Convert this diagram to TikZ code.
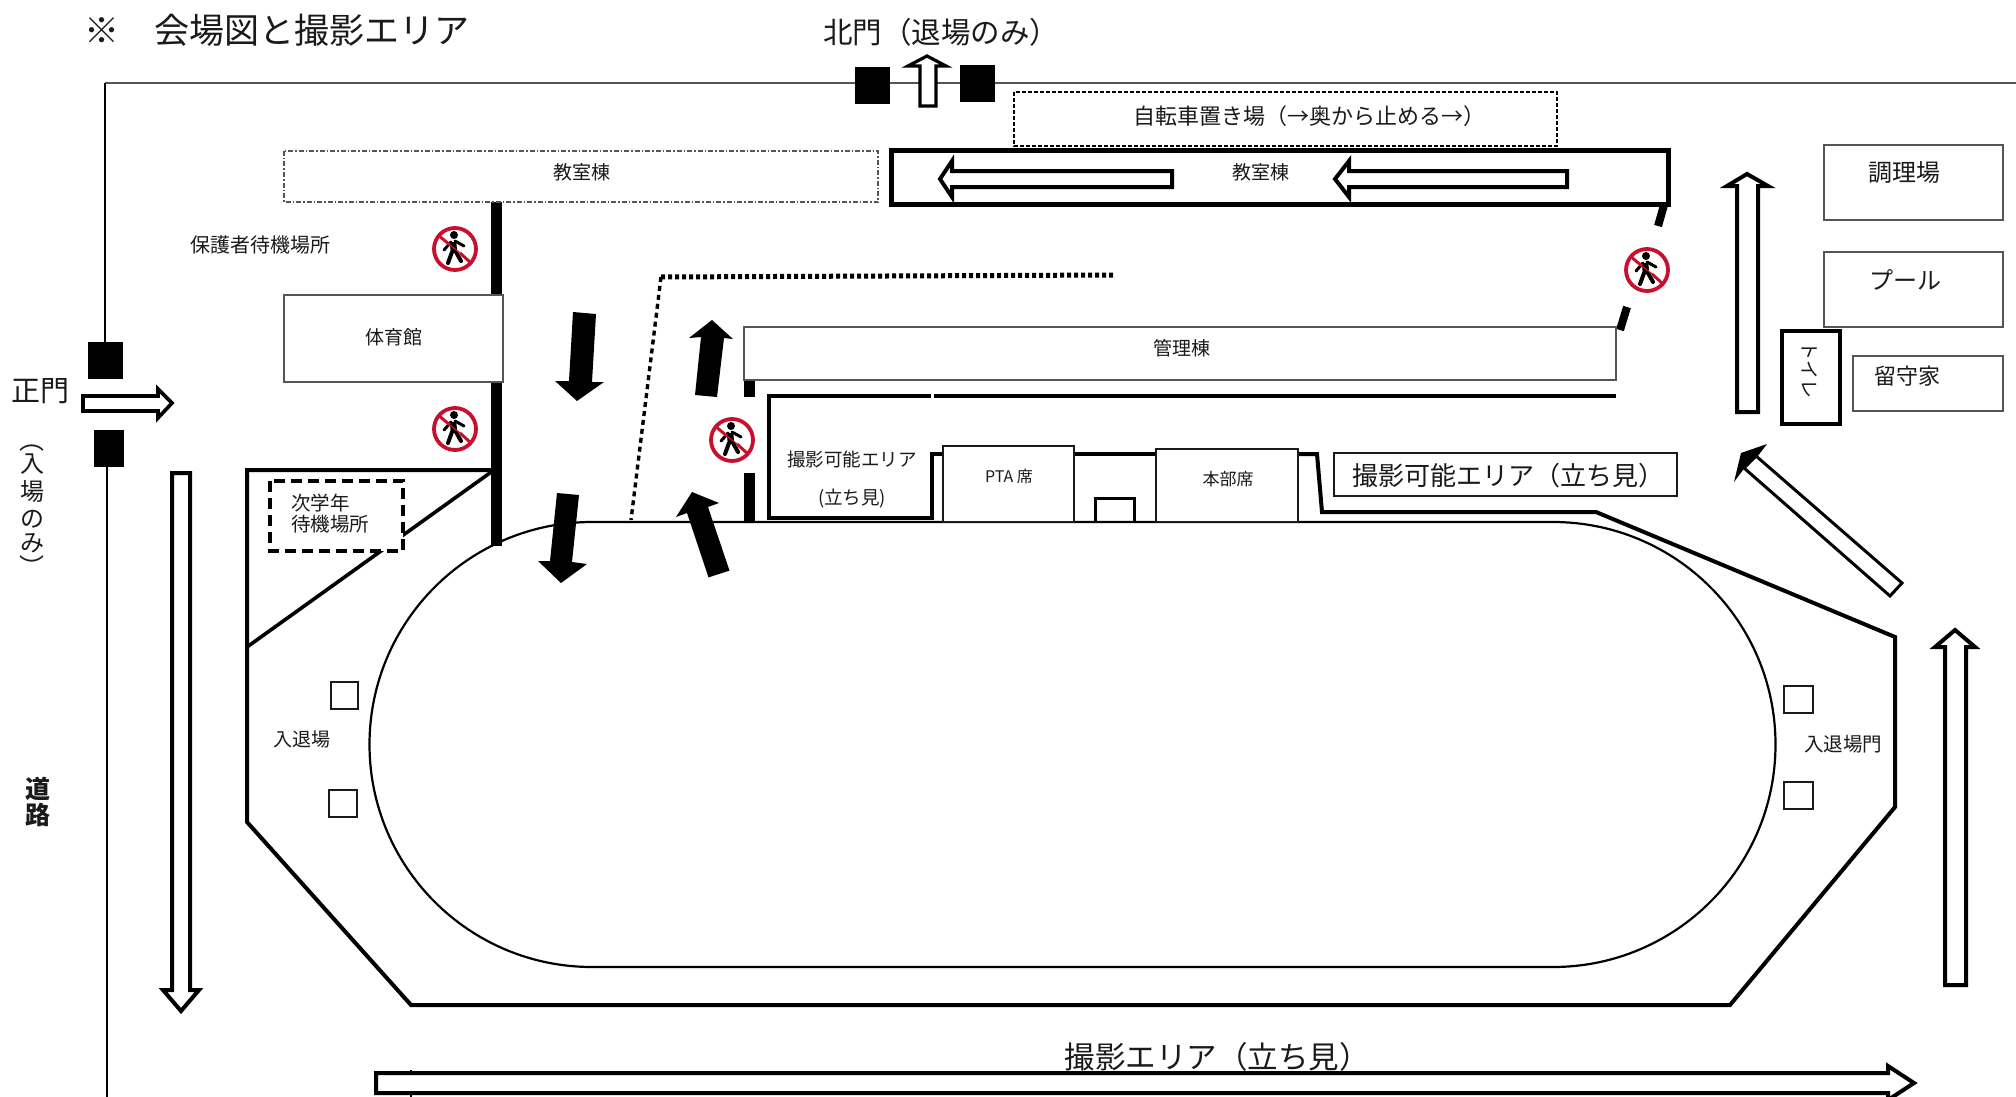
\documentclass[tikz,border=0pt]{standalone}
\usepackage{fontspec}
\setmainfont{Noto Sans CJK JP}
\definecolor{ink}{HTML}{1A1A1A}
\definecolor{wallgray}{HTML}{555555}
\definecolor{nored}{HTML}{C8102E}
\tikzset{
  lbl/.style={inner sep=0pt,text=ink,font=\fontsize{#1}{#1}\selectfont},
  thinbox/.style={draw=wallgray,line width=1.8pt,fill=white},
  thickline/.style={draw=black,line width=4pt,line join=miter},
  wall/.style={draw=black,line width=11pt},
  hollow/.style={draw=black,line width=4pt,fill=white,line join=miter},
  solidarrow/.style={fill=black,draw=none},
  gate/.style={fill=black,draw=none},
  smallsq/.style={draw=ink,line width=2.4pt,fill=white},
  nopass/.pic={
    \draw[nored,line width=3.8pt,fill=white] (0,0) circle (21);
    \fill[black] (-1,-14) circle (4);
    \draw[black,line width=6.5pt] (-2,-7) -- (-1,3);
    \draw[black,line width=3pt,line cap=round] (-4,-7) -- (-11,1) (0,-8) -- (9,-3);
    \draw[black,line width=4pt,line cap=round] (-3,3) -- (-7,14) (1,3) -- (6,12);
    \draw[nored,line width=3pt] (-17,-14) -- (-5,-4) (5,4) -- (16,14);
    \draw[nored,line width=1.2pt] (-5,-4) -- (5,4);
  }
}
\begin{document}
\begin{tikzpicture}[x=1pt,y=-1pt]
\path[use as bounding box] (0,0) rectangle (2016,1097);
\clip (0,0) rectangle (2016,1097);
% boundary
\coordinate (nwc) at (105,83);
\coordinate (nec) at (2016,83);
\coordinate (swc) at (107,1097);
\draw[wallgray,line width=1.8pt] (nec) -- (nwc);
\draw[black,line width=1.2pt] (nwc) -- (105,345) (107,465) -- (swc);
% gates
\fill[gate] (855,67) rectangle (890,104);
\fill[gate] (960,65) rectangle (995,102);
\fill[gate] (88,342) rectangle (123,379);
\fill[gate] (94,430) rectangle (124,467);
% gate arrows
\path[hollow,line width=3.2pt] (920,106) -- (936,106) -- (936,66) -- (946,66) -- (927,56) -- (908,66) -- (920,66) -- cycle;
\path[hollow,line width=3.6pt] (83,396) -- (158,396) -- (158,389) -- (172,403) -- (158,418) -- (158,411) -- (83,411) -- cycle;
% field outline
\draw[thickline] (494,470) -- (247,470) -- (247,822) -- (411,1005) -- (1730,1005) -- (1895,807) -- (1895,637) -- (1596,512) -- (1322,512) -- (1317,454) -- (1298,454);
\draw[thickline] (1155,454) -- (1075,454);
\draw[thickline] (943,454) -- (932,454) -- (932,518) -- (769,518) -- (769,396) -- (931,396);
\draw[thickline] (934,396) -- (1616,396);
\draw[black,line width=3.6pt] (494,470) -- (247,647);
% track
\draw[black,line width=2.2pt] (592,522) -- (1553,522) arc[start angle=-90,end angle=90,radius=222.5] -- (592,967) arc[start angle=90,end angle=270,radius=222.5] -- cycle;
% walls
\draw[wall] (496,202) -- (496,295) (496,382) -- (496,546);
\draw[wall] (749,381) -- (749,397) (749,473) -- (749,523);
\draw[black,line width=8pt] (1664,205) -- (1658,226) (1627,307) -- (1620,330);
% dotted
\draw[black,line width=5pt,dash pattern=on 4pt off 3pt] (1113,275) -- (661,277);
\draw[black,line width=3.4pt,dash pattern=on 5pt off 4pt] (661,277) -- (631,520);
% buildings
\draw[thinbox] (284,295) rectangle (503,382);
\node[lbl=19] (gymt) at (394,337) {体育館};
\draw[thinbox] (744,327) rectangle (1616,380);
\node[lbl=19] (admint) at (1182,348) {管理棟};
\draw[draw=wallgray,line width=1.6pt,dash pattern=on 5pt off 2pt on 1.5pt off 2pt,fill=white] (284,151) rectangle (878,202);
\node[lbl=19] (clsl) at (582,172.5) {教室棟};
\draw[draw=black,line width=1.6pt,dash pattern=on 4pt off 2pt,fill=white] (1014,92) rectangle (1557,146);
\node[lbl=22] (bike) at (1309,116) {自転車置き場（→奥から止める→）};
\draw[black,line width=5pt] (891,151) rectangle (1668,204);
\node[lbl=19] (clsr) at (1261,172.5) {教室棟};
\path[hollow] (1567,171) -- (1349,171) -- (1349,161) -- (1335,179) -- (1349,197) -- (1349,187) -- (1567,187) -- cycle;
\path[hollow] (1172,171) -- (952,171) -- (952,161) -- (940,179) -- (952,197) -- (952,187) -- (1172,187) -- cycle;
% right buildings
\draw[thinbox] (1824,145) rectangle (2003,220);
\node[lbl=24] (cook) at (1904,173) {調理場};
\draw[thinbox] (1824,252) rectangle (2003,327);
\node[lbl=24] (pool) at (1905,280) {プール};
\draw[thinbox] (1853,356) rectangle (2003,411);
\node[lbl=22] (keeper) at (1907,376) {留守家};
\draw[black,line width=4.5pt,fill=white] (1782,331) rectangle (1840,424);
\node[lbl=19,rotate=-90] (toilet) at (1810,370) {トイレ};
% seats
\draw[thinbox,draw=ink] (943,446) rectangle (1074,522);
\node[lbl=16] (ptat) at (1009,476) {PTA 席};
\draw[thinbox,draw=ink] (1156,449) rectangle (1298,522);
\node[lbl=17] (hq) at (1228,479) {本部席};
\draw[black,line width=3pt] (1095,522) -- (1095,498) -- (1134,498) -- (1134,522);
\node[lbl=18.5] (photoa) at (852,459) {撮影可能エリア};
\node[lbl=18.5] (photob) at (852,499) {(立ち見)};
\draw[draw=ink,line width=1.8pt,fill=white] (1334,453) rectangle (1677,496);
\node[lbl=26] (photoc) at (1508,476) {撮影可能エリア（立ち見）};
% next-year box
\draw[black,line width=3.6pt,dash pattern=on 11pt off 6pt,fill=white] (270,481) rectangle (403,551);
\node[lbl=19.5,anchor=west] (nexta) at (291,503) {次学年};
\node[lbl=19.5,anchor=west] (nextb) at (291,524) {待機場所};
\node[lbl=20] (parent) at (260,245) {保護者待機場所};
% squares
\draw[smallsq] (331,682) rectangle (358,709);
\draw[smallsq] (329,790) rectangle (357,817);
\draw[smallsq] (1784,686) rectangle (1813,713);
\draw[smallsq] (1784,782) rectangle (1813,809);
\node[lbl=19] (entl) at (302,739) {入退場};
\node[lbl=19.5] (entr) at (1843,744) {入退場門};
% solid arrows
\fill[solidarrow] (573,312) -- (596,314) -- (592,382) -- (604,382) -- (577,401) -- (555,381) -- (569,381) -- cycle;
\fill[solidarrow] (695,395) -- (717,397) -- (724,338) -- (733,339) -- (712,320) -- (689,338) -- (701,337) -- cycle;
\fill[solidarrow] (557,493) -- (579,495) -- (572,562) -- (587,564) -- (561,583) -- (538,561) -- (550,561) -- cycle;
\fill[solidarrow] (708.5,577.4) -- (729.5,570.6) -- (708,507) -- (719,503) -- (692,492) -- (676,517) -- (687,513) -- cycle;
% hollow arrows
\path[hollow] (172,473) -- (190,473) -- (190,990) -- (199,990) -- (181,1011) -- (163,990) -- (172,990) -- cycle;
\path[hollow] (1737,412) -- (1758,412) -- (1758,186) -- (1768,186) -- (1747,174) -- (1727,186) -- (1737,186) -- cycle;
\path[hollow] (1945,985) -- (1966,985) -- (1966,647) -- (1975,647) -- (1955,630) -- (1935,647) -- (1945,647) -- cycle;
\path[hollow,line width=3pt] (1756,456) -- (1902,583) -- (1890,596) -- (1744,468) -- cycle;
\fill[black] (1767,444) -- (1741,453) -- (1734,482) -- (1746,466) -- (1757,457) -- cycle;
\draw[black,line width=1.5pt] (411,1070) -- (411,1097);
\path[hollow] (376,1073) -- (1888,1073) -- (1888,1066) -- (1914,1083) -- (1888,1100) -- (1888,1093) -- (376,1093) -- cycle;
% signs
\pic at (455,249) {nopass};
\pic at (455,429) {nopass};
\pic at (732,440) {nopass};
\pic at (1647,270) {nopass};
% outer labels
\node[lbl=35,anchor=west] (title) at (84,30) {※　会場図と撮影エリア};
\node[lbl=29.5] (north) at (941,32) {北門（退場のみ）};
\node[lbl=29] (main) at (40,391) {正門};
\node[lbl=25,rotate=-90] (v1) at (32,440) {（};
\node[lbl=24] (v2) at (32,464) {入};
\node[lbl=24] (v3) at (32,492) {場};
\node[lbl=24] (v4) at (32,519) {の};
\node[lbl=24] (v5) at (32,543) {み};
\node[lbl=25,rotate=-90] (v6) at (32,567) {）};
\node[lbl=25,font=\fontsize{25}{25}\selectfont\bfseries] (road1) at (38,789) {道};
\node[lbl=25,font=\fontsize{25}{25}\selectfont\bfseries] (road2) at (38,815) {路};
\node[lbl=30.5] (photod) at (1217,1057) {撮影エリア（立ち見）};
\end{tikzpicture}
\end{document}
